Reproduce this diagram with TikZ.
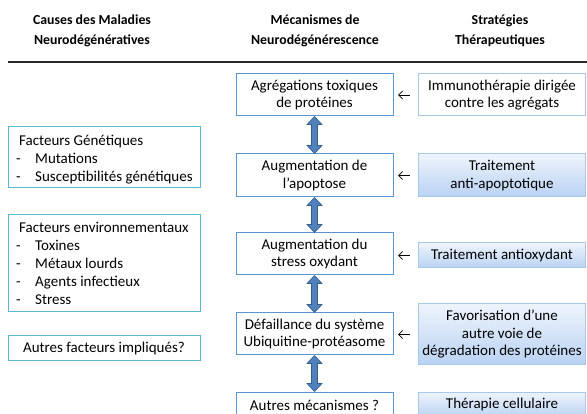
\documentclass[tikz,border=0pt]{standalone}
\usepackage{fontspec}
\setmainfont{Carlito}
\usetikzlibrary{arrows.meta,calc}
\definecolor{midblue}{RGB}{91,150,210}
\definecolor{leftcyan}{RGB}{90,185,215}
\definecolor{rightborder}{RGB}{165,200,235}
\definecolor{gradtop}{RGB}{238,244,252}
\definecolor{gradbot}{RGB}{185,210,243}
\definecolor{arrfill}{RGB}{79,129,189}
\definecolor{arrline}{RGB}{56,93,138}
\definecolor{rulecol}{RGB}{40,40,40}
\newcommand\bodyfont{\fontsize{15}{17.5}\selectfont}
\newcommand\fatarrow[2]{%
  \draw[fatarr] let \p1=(#1.south), \p2=(#2.north) in
    (\x1,\y1) -- (\x1+7.5pt,\y1-8pt) -- (\x1+3pt,\y1-8pt) -- (\x1+3pt,\y2+8pt)
    -- (\x1+7.5pt,\y2+8pt) -- (\x1,\y2) -- (\x1-7.5pt,\y2+8pt) -- (\x1-3pt,\y2+8pt)
    -- (\x1-3pt,\y1-8pt) -- (\x1-7.5pt,\y1-8pt) -- cycle;}
\tikzset{
  head/.style={font=\fontsize{13.8}{20}\selectfont\bfseries, align=center},
  midbox/.style={draw=midblue, line width=1pt, fill=white, minimum width=157pt,
    align=center, font=\bodyfont, inner sep=0pt},
  leftbox/.style={draw=leftcyan, line width=1pt, fill=white, minimum width=192pt, inner sep=0pt},
  rightbox/.style={draw=rightborder, line width=1pt, minimum width=167pt,
    align=center, font=\bodyfont, inner sep=0pt},
  gradbox/.style={rightbox, top color=gradtop, bottom color=gradbot},
  plainbox/.style={rightbox, fill=white},
  ltext/.style={anchor=base west, font=\bodyfont, inner sep=0pt},
  fatarr/.style={fill=arrfill, draw=arrline, line width=0.6pt},
  larrow/.style={-{Straight Barb[length=4pt,width=8pt]}, line width=0.8pt, black}
}
\begin{document}
\begin{tikzpicture}[x=1pt,y=-1pt]
\useasboundingbox (0,0) rectangle (587,414);
\clip (0,0) rectangle (587,414);
\fill[white] (0,0) rectangle (587,414);
% headers
\node[head] (h1) at (92,30.5) {Causes des Maladies\\Neurodégénératives};
\node[head] (h2) at (315,30.5) {Mécanismes de\\Neurodégénérescence};
\node[head] (h3) at (500,30.5) {Stratégies\\Thérapeutiques};
\coordinate (rl) at (8,62);
\coordinate (rr) at (587,62);
\draw[rulecol, line width=2.8pt] (rl) -- (rr);
% middle column
\node[midbox, minimum height=42pt] (m1) at (314.5,95) {Agrégations toxiques\\de protéines};
\node[midbox, minimum height=43pt] (m2) at (314.5,175.5) {Augmentation de\\l’apoptose};
\node[midbox, minimum height=42pt] (m3) at (314.5,254) {Augmentation du\\stress oxydant};
\node[midbox, minimum height=42pt] (m4) at (314.5,334) {Défaillance du système\\Ubiquitine-protéasome};
\node[midbox, minimum height=26pt] (m5) at (314.5,405) {Autres mécanismes ?};
\fatarrow{m1}{m2}
\fatarrow{m2}{m3}
\fatarrow{m3}{m4}
\fatarrow{m4}{m5}
% right column
\node[plainbox, minimum height=42pt] (r1) at (502,95) {Immunothérapie dirigée\\contre les agrégats};
\node[gradbox, minimum height=43pt] (r2) at (502,175.5) {Traitement\\anti-apoptotique};
\node[gradbox, minimum height=25pt] (r3) at (502,255.5) {Traitement antioxydant};
\node[gradbox, minimum height=61pt] (r4) at (502,334.5) {Favorisation d’une\\autre voie de\\dégradation des protéines};
\node[gradbox, minimum height=26pt] (r5) at (502,405) {Thérapie cellulaire};
\draw[larrow] ([xshift=-8pt]r1.west) -- ([xshift=-20pt]r1.west);
\draw[larrow] ([xshift=-8pt]r2.west) -- ([xshift=-20pt]r2.west);
\draw[larrow] ([xshift=-8pt]r3.west) -- ([xshift=-20pt]r3.west);
\draw[larrow] ([xshift=-8pt]r4.west) -- ([xshift=-20pt]r4.west);
% left column (baselines)
\node[leftbox, minimum height=61pt] (l1) at (104,157.5) {};
\node[ltext] (l1t) at (19,146) {Facteurs Génétiques};
\node[ltext] (l1a) at (16,163.5) {-};
\node[ltext] (l1b) at (35,163.5) {Mutations};
\node[ltext] (l1c) at (16,181.5) {-};
\node[ltext] (l1d) at (35,181.5) {Susceptibilités génétiques};
\node[leftbox, minimum height=97pt] (l2) at (104,263.5) {};
\node[ltext] (l2t) at (19,233) {Facteurs environnementaux};
\node[ltext] (l2a) at (16,251) {-};
\node[ltext] (l2b) at (35,251) {Toxines};
\node[ltext] (l2c) at (16,269) {-};
\node[ltext] (l2d) at (35,269) {Métaux lourds};
\node[ltext] (l2e) at (16,287) {-};
\node[ltext] (l2f) at (35,287) {Agents infectieux};
\node[ltext] (l2g) at (16,305) {-};
\node[ltext] (l2h) at (35,305) {Stress};
\node[leftbox, minimum height=25pt, font=\bodyfont] (l3) at (104,348.5) {Autres facteurs impliqués?};
\end{tikzpicture}
\end{document}
